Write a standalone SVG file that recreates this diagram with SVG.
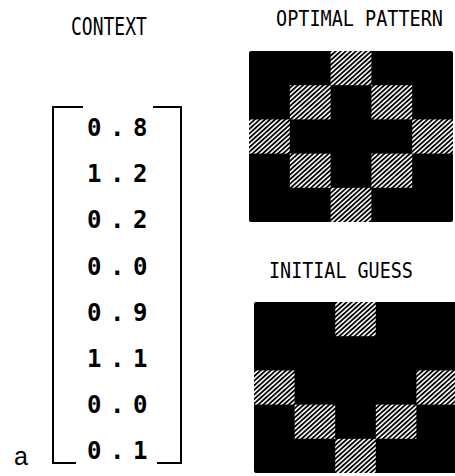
<svg xmlns="http://www.w3.org/2000/svg" width="455" height="476" viewBox="0 0 455 476">
  <defs>
    <pattern id="hatch" patternUnits="userSpaceOnUse" width="10" height="3.4" patternTransform="rotate(-42)">
      <rect x="0" y="0" width="10" height="3.4" fill="#fff"/>
      <rect x="0" y="0" width="10" height="1.8" fill="#000"/>
    </pattern>
    <style>
      .lbl { font-family: "DejaVu Sans Mono", "Liberation Mono", monospace; fill: #000; }
      .num { font-family: "DejaVu Sans Mono", "Liberation Mono", monospace; font-weight: bold; font-size: 24px; fill: #000; }
      .brk { fill: none; stroke: #000; stroke-width: 2; }
      .blk { fill: #000; }
      .h { fill: url(#hatch); }
    </style>
  </defs>
  <rect width="455" height="476" fill="#fff"/>

  <g id="context">
    <text class="lbl" transform="translate(71,35) scale(1,1.37)" font-size="18">CONTEXT</text>
    <polyline class="brk" points="83,107 53,107 53,463 76,463"/>
    <polyline class="brk" points="153,107 181,107 181,463 157,463"/>
    <text class="num" x="87 110 133" y="136">0.8</text>
    <text class="num" x="87 110 133" y="182">1.2</text>
    <text class="num" x="87 110 133" y="228">0.2</text>
    <text class="num" x="87 110 133" y="275">0.0</text>
    <text class="num" x="87 110 133" y="321">0.9</text>
    <text class="num" x="87 110 133" y="367">1.1</text>
    <text class="num" x="87 110 133" y="413">0.0</text>
    <text class="num" x="87 110 133" y="459">0.1</text>
    <text x="14" y="465" font-family="Liberation Sans, Arial, sans-serif" font-size="25" fill="#000">a</text>
  </g>

  <g id="optimal">
    <text class="lbl" transform="translate(276,26) scale(1,1.18)" font-size="18.5">OPTIMAL PATTERN</text>
    <rect class="blk" x="249" y="51" width="204" height="171" rx="2"/>
    <rect class="h" x="330.6" y="51" width="40.8" height="34.2"/>
    <rect class="h" x="289.8" y="85.2" width="40.8" height="34.2"/>
    <rect class="h" x="371.4" y="85.2" width="40.8" height="34.2"/>
    <rect class="h" x="249" y="119.4" width="40.8" height="34.2"/>
    <rect class="h" x="412.2" y="119.4" width="40.8" height="34.2"/>
    <rect class="h" x="289.8" y="153.6" width="40.8" height="34.2"/>
    <rect class="h" x="371.4" y="153.6" width="40.8" height="34.2"/>
    <rect class="h" x="330.6" y="187.8" width="40.8" height="34.2"/>
  </g>

  <g id="initial">
    <text class="lbl" transform="translate(269,278) scale(1,1.16)" font-size="18.4">INITIAL GUESS</text>
    <rect class="blk" x="254" y="302" width="204" height="171" rx="2"/>
    <rect class="h" x="335.2" y="302" width="40.6" height="34.2"/>
    <rect class="h" x="254" y="370.4" width="40.6" height="34.2"/>
    <rect class="h" x="416.4" y="370.4" width="40.6" height="34.2"/>
    <rect class="h" x="294.6" y="404.6" width="40.6" height="34.2"/>
    <rect class="h" x="375.8" y="404.6" width="40.6" height="34.2"/>
    <rect class="h" x="335.2" y="438.8" width="40.6" height="34.2"/>
  </g>
</svg>
